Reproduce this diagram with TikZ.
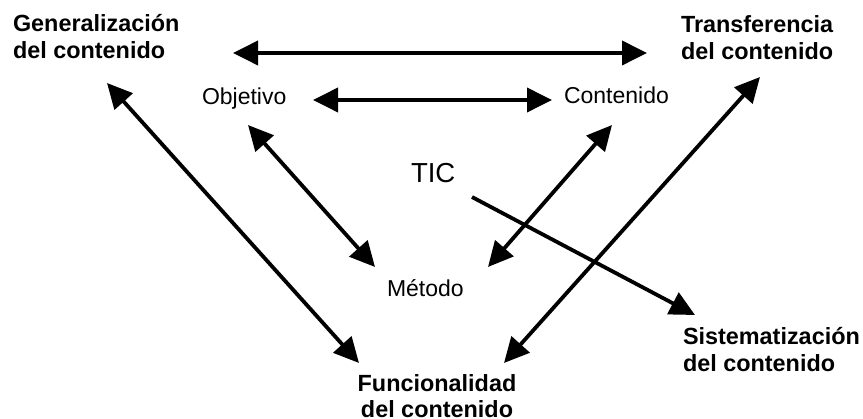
\documentclass[tikz,border=0pt]{standalone}
\usepackage{fontspec}
\setmainfont{Liberation Sans}
\usetikzlibrary{arrows.meta}
\begin{document}
\begin{tikzpicture}[x=1pt,y=-1pt,
  lbl/.style={inner sep=0pt,outer sep=0pt,font=\fontsize{23}{27}\selectfont},
  blbl/.style={lbl,font=\fontsize{23.4}{27}\selectfont\bfseries},
  link/.style={line width=3.8pt,{Triangle[length=25pt,width=24pt]}-{Triangle[length=25pt,width=24pt]}},
  onelink/.style={line width=3.8pt,-{Triangle[length=25pt,width=24pt]}}]
\useasboundingbox (0,0) rectangle (863,419);
\fill[white] (0,0) rectangle (863,419);
% labels
\node[blbl,anchor=base west] (gen) at (13,32) {\begin{tabular}[t]{@{}l@{}}Generalización\\del contenido\end{tabular}};
\node[blbl,anchor=base west] (tra) at (681,33) {\begin{tabular}[t]{@{}l@{}}Transferencia\\del contenido\end{tabular}};
\node[blbl,anchor=base west] (sis) at (683,345) {\begin{tabular}[t]{@{}l@{}}Sistematización\\del contenido\end{tabular}};
\node[blbl,anchor=base,font=\fontsize{23.4}{26}\selectfont\bfseries] (fun) at (437,392) {\begin{tabular}[t]{@{}c@{}}Funcionalidad\\del contenido\end{tabular}};
\node[lbl,anchor=base west] (obj) at (202,105) {Objetivo};
\node[lbl,anchor=base west] (con) at (564,104) {Contenido};
\node[lbl,anchor=base west] (met) at (387,297) {Método};
\node[lbl,anchor=base west,font=\fontsize{27.5}{32}\selectfont] (tic) at (411,183) {TIC};
% arrow end points
\coordinate (genR) at (233,53);
\coordinate (traL) at (647,53);
\coordinate (objR) at (313,100);
\coordinate (conL) at (552,100);
\coordinate (genB) at (107,83);
\coordinate (funL) at (359,363);
\coordinate (objB) at (248,125);
\coordinate (metL) at (375,267);
\coordinate (conB) at (612,125);
\coordinate (metR) at (488,267);
\coordinate (traB) at (760,77);
\coordinate (funR) at (504,363);
\coordinate (ticS) at (472,197);
\coordinate (sisT) at (695,315);
% connectors
\draw[link] (genR) -- (traL);
\draw[link] (objR) -- (conL);
\draw[link] (genB) -- (funL);
\draw[link] (objB) -- (metL);
\draw[link] (conB) -- (metR);
\draw[link] (traB) -- (funR);
\draw[onelink] (ticS) -- (sisT);
\end{tikzpicture}
\end{document}
